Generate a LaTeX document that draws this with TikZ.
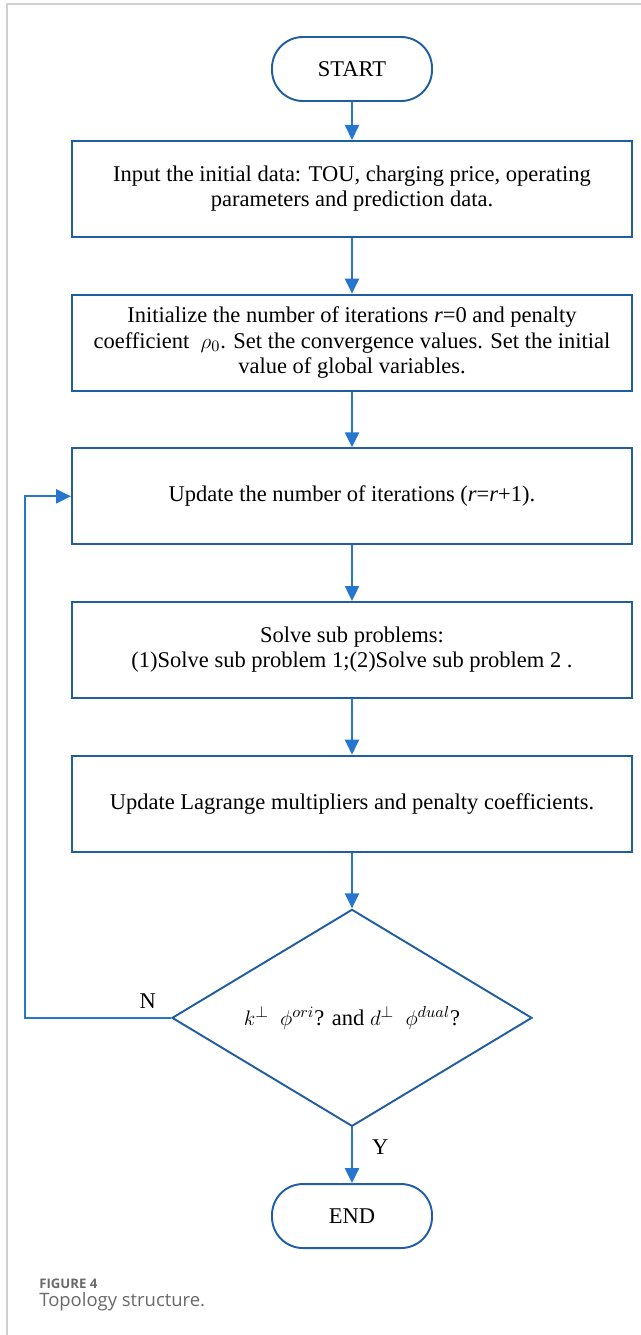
\documentclass[tikz,border=0pt]{standalone}
\usepackage{fontspec}
\setmainfont{Liberation Serif}
\newfontfamily\capfont{Open Sans}
\usepackage{pgf,tikz}
\usetikzlibrary{arrows.meta}
\usetikzlibrary{positioning}
\usetikzlibrary{shapes.geometric}
\definecolor{boxblue}{RGB}{32,94,160}
\definecolor{arrowblue}{RGB}{38,118,208}
\definecolor{framegray}{RGB}{208,208,208}
\definecolor{capgray}{RGB}{105,105,105}
\newcommand{\flowfont}{\fontsize{12.8}{14.3}\selectfont}

\begin{document}
\begin{tikzpicture}[
    terminal/.style={%
      draw=boxblue,
      line width=1.1pt,
      rectangle,
      rounded corners=0.62cm,
      minimum width=3.2cm,
      minimum height=1.28cm,
      font=\flowfont,
    },
    stepbox/.style={%
      draw=boxblue,
      line width=1.1pt,
      rectangle,
      minimum width=11.2cm,
      minimum height=1.92cm,
      align=center,
      font=\flowfont,
    },
    decision/.style={%
      draw=boxblue,
      line width=1.1pt,
      diamond,
      shape aspect=1.66,
      inner sep=0pt,
      minimum width=7.2cm,
      minimum height=4.34cm,
      font=\flowfont,
    },
    flow/.style={%
      draw=arrowblue,
      line width=1.3pt,
      -{Triangle[length=0.3cm,width=0.28cm]},
    },
    node distance=1.115cm,
  ]

    \useasboundingbox (0,0) rectangle (12.82,-26.7);
    \draw [framegray, line width=0.8pt] (12.82,-0.08) -- (0.14,-0.08) -- (0.14,-26.7);

    \node [terminal] (start) at (7.04,-1.38) {START};
    \node [stepbox, below=0.76cm of start] (input) {Input the initial data: TOU, charging price, operating\\ parameters and prediction data.};
    \node [stepbox, below=of input] (init) {Initialize the number of iterations \textit{r}=0 and penalty\\ coefficient \ $\rho_{0}$. Set the convergence values. Set the initial\\ value of global variables.};
    \node [stepbox, below=of init] (iter) {Update the number of iterations (\textit{r}=\textit{r}+1).};
    \node [stepbox, below=of iter] (sub) {Solve sub problems:\\ (1)Solve sub problem 1;(2)Solve sub problem 2 .};
    \node [stepbox, below=of sub] (mult) {Update Lagrange multipliers and penalty coefficients.};
    \node [decision, below=of mult] (conv) {$k^{\perp}$\ \ $\phi^{ori}$? and $d^{\perp}$\ \ $\phi^{dual}$?};
    \node [terminal, below=of conv] (end) {END};

    \draw [flow] (start) -- (input);
    \draw [flow] (input) -- (init);
    \draw [flow] (init) -- (iter);
    \draw [flow] (iter) -- (sub);
    \draw [flow] (sub) -- (mult);
    \draw [flow] (mult) -- (conv);
    \draw [flow] (conv) -- node [right, pos=0.36, xshift=0.26cm, font=\flowfont] {Y} (end);
    \draw [flow] (conv.west) -- node [above, pos=0.16, yshift=0.05cm, font=\flowfont] {N} ++(-2.92,0) |- (iter.west);

    \node [anchor=west, inner sep=0pt, text=capgray, font=\capfont\bfseries\fontsize{7.5}{9}\selectfont] (fignum) at (0.78,-25.68) {FIGURE 4};
    \node [anchor=west, inner sep=0pt, text=capgray, font=\capfont\fontsize{10.5}{12}\selectfont] (figcap) at (0.78,-26.04) {Topology structure.};
\end{tikzpicture}
\end{document}
